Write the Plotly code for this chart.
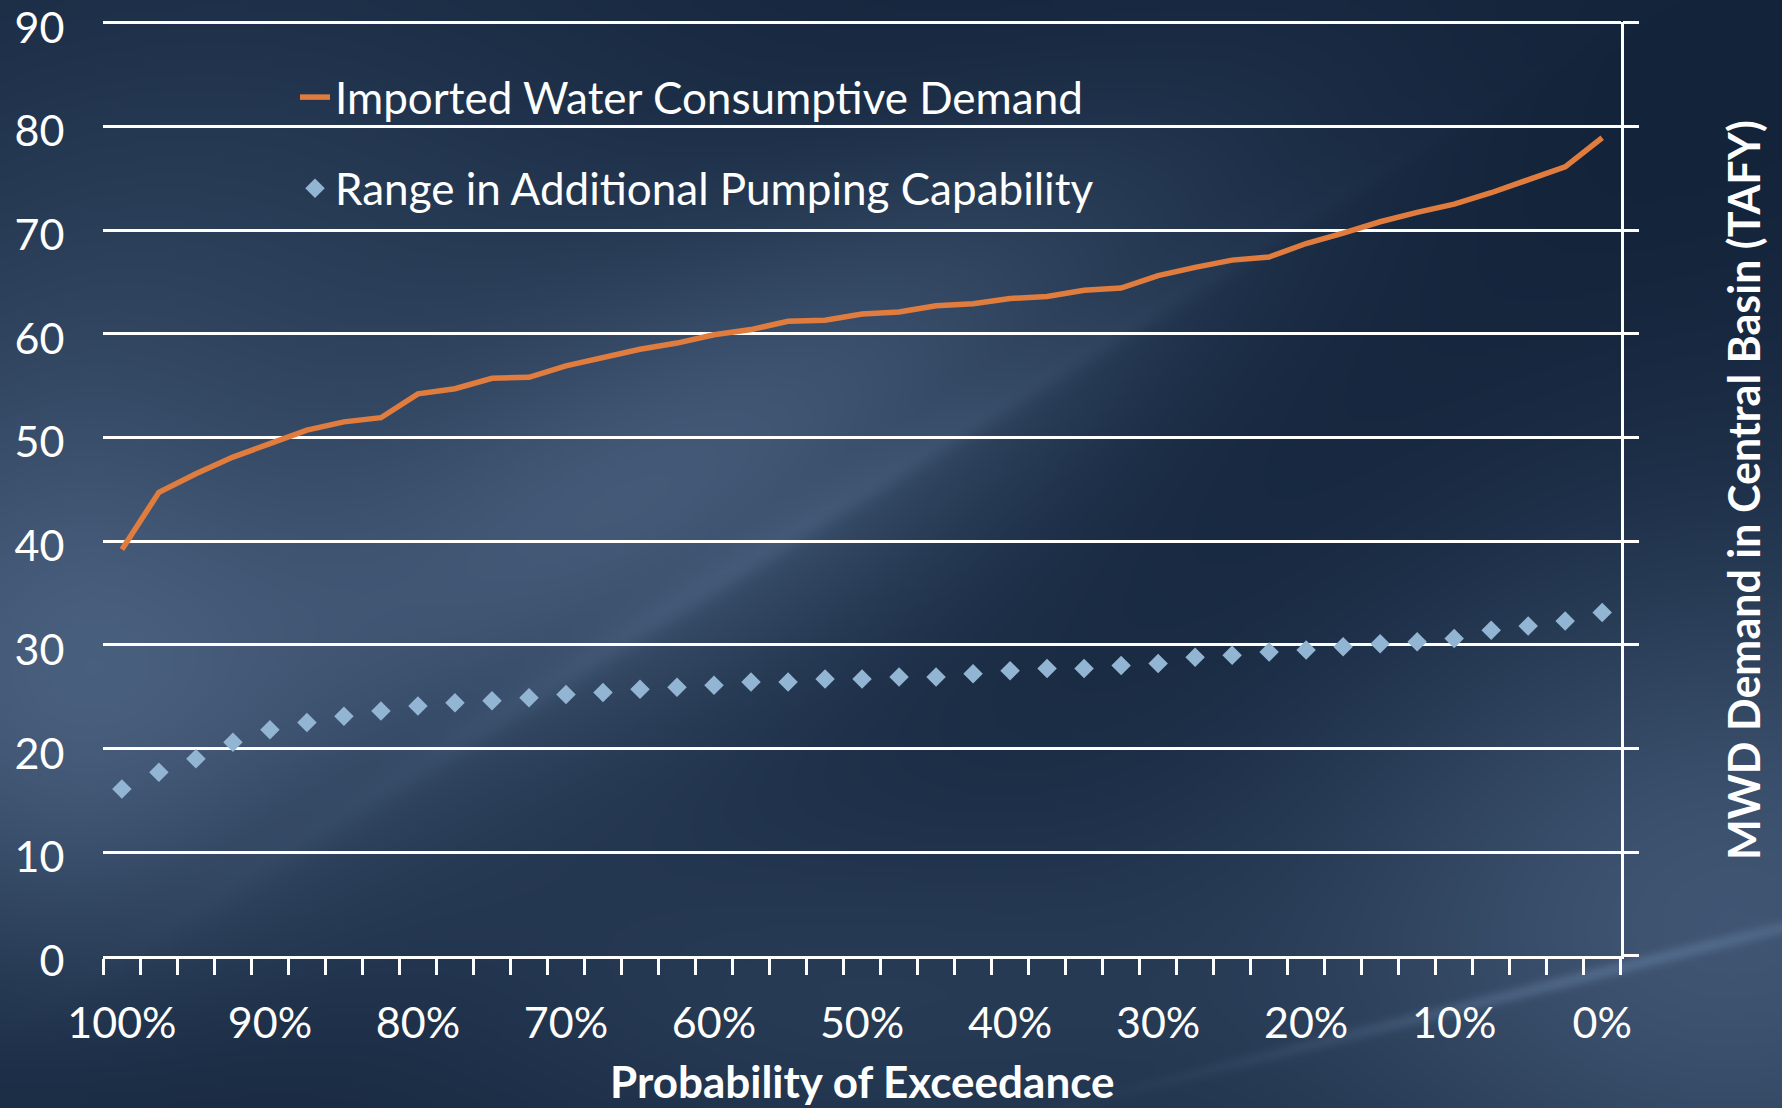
import base64
import struct
import zlib

import numpy as np
import plotly.graph_objects as go

# ---------------------------------------------------------------- data
exceedance = [100, 97.5, 95, 92.5, 90, 87.5, 85, 82.5, 80, 77.5,
              75, 72.5, 70, 67.5, 65, 62.5, 60, 57.5, 55, 52.5,
              50, 47.5, 45, 42.5, 40, 37.5, 35, 32.5, 30, 27.5,
              25, 22.5, 20, 17.5, 15, 12.5, 10, 7.5, 5, 2.5, 0]

imported_demand = [39.2, 44.7, 46.5, 48.1, 49.4, 50.7, 51.5, 51.9, 54.2, 54.7,
                   55.7, 55.8, 56.9, 57.7, 58.5, 59.1, 59.9, 60.4, 61.2, 61.3,
                   61.9, 62.1, 62.7, 62.9, 63.4, 63.6, 64.2, 64.4, 65.6, 66.4,
                   67.1, 67.4, 68.7, 69.7, 70.8, 71.7, 72.5, 73.6, 74.8, 76.1,
                   78.9]

pumping_capability = [16.1, 17.7, 19.0, 20.6, 21.8, 22.5, 23.1, 23.6, 24.1, 24.4,
                      24.6, 24.9, 25.2, 25.4, 25.7, 25.9, 26.1, 26.4, 26.4, 26.7,
                      26.7, 26.9, 26.9, 27.2, 27.5, 27.7, 27.7, 28.0, 28.2, 28.8,
                      29.0, 29.3, 29.5, 29.8, 30.1, 30.3, 30.6, 31.4, 31.8, 32.3,
                      33.1]

label_values = [100, 90, 80, 70, 60, 50, 40, 30, 20, 10, 0]
label_text = ["100%", "90%", "80%", "70%", "60%", "50%", "40%", "30%", "20%", "10%", "0%"]

# ---------------------------------------------------------------- styling
W, H = 1782, 1108
PLOT_L, PLOT_R, PLOT_T, PLOT_B = 103.4, 1620.7, 22.7, 955.8
Y_MAX = 90
Y_PAD = 0.1  # keeps the top gridline just inside the plotting area
ORANGE = "#E07C3E"
DIAMOND = "#93B5D4"
FONT = "Lato"
TXT = "#FFFFFF"

step = exceedance[0] - exceedance[1]
boundaries = [exceedance[0] + step / 2 - step * i for i in range(len(exceedance) + 1)]
px_per_unit = (PLOT_B - PLOT_T) / Y_MAX
top_px = PLOT_T - Y_PAD * px_per_unit


# ---------------------------------------------------------------- backdrop
def png_uri(rgb):
    h, w, _ = rgb.shape
    raw = b"".join(b"\x00" + rgb[i].tobytes() for i in range(h))

    def chunk(tag, data):
        return (struct.pack(">I", len(data)) + tag + data
                + struct.pack(">I", zlib.crc32(tag + data) & 0xFFFFFFFF))

    png = (b"\x89PNG\r\n\x1a\n"
           + chunk(b"IHDR", struct.pack(">IIBBBBB", w, h, 8, 2, 0, 0, 0))
           + chunk(b"IDAT", zlib.compress(raw, 9))
           + chunk(b"IEND", b""))
    return "data:image/png;base64," + base64.b64encode(png).decode()


def backdrop(w=446, h=277):
    X, Y = np.meshgrid(np.linspace(0, W, w), np.linspace(0, H, h))

    def blob(cx, cy, sx, sy, ang_deg, amp):
        a = np.deg2rad(ang_deg)
        dx, dy = X - cx, Y - cy
        u = dx * np.cos(a) + dy * np.sin(a)
        v = -dx * np.sin(a) + dy * np.cos(a)
        return amp * np.exp(-(u ** 2 / (2 * sx ** 2) + v ** 2 / (2 * sy ** 2)))

    L = np.full(X.shape, 0.16)
    L += blob(30, 660, 200, 230, 0, 0.55)
    L += blob(260, 240, 330, 200, 0, 0.20)
    L += blob(820, 400, 430, 140, -30, 0.42)
    L += blob(500, 580, 300, 170, -20, 0.22)
    L += blob(1740, 920, 320, 260, 0, 0.55)
    L += blob(820, 1000, 330, 130, 0, 0.22)
    L += blob(1600, 975, 260, 5, -14, 0.28)
    L += blob(900, 470, 380, 9, -32, 0.10)
    L += blob(730, 560, 420, 14, -33, 0.08)
    L += blob(1400, 60, 420, 220, 0, -0.12)
    L += blob(1250, 480, 220, 200, 0, -0.06)
    L += blob(150, 1080, 300, 110, 0, -0.05)
    L = np.clip(L, 0, 1)

    dark = np.array([12, 28, 50], float)
    light = np.array([84, 108, 140], float)
    rgb = dark + (light - dark) * L[..., None]
    return np.clip(rgb, 0, 255).astype(np.uint8)


# ---------------------------------------------------------------- figure
fig = go.Figure()

fig.add_trace(go.Scatter(
    x=exceedance, y=imported_demand, mode="lines", yaxis="y2",
    name="Imported Water Consumptive Demand", legendgroup="demand",
    line=dict(color=ORANGE, width=5.5),
))
fig.add_trace(go.Scatter(
    x=exceedance, y=pumping_capability, mode="markers",
    name="Range in Additional Pumping Capability", legendgroup="pumping",
    marker=dict(symbol="diamond", size=15, color=DIAMOND),
))

y_domain = [1 - PLOT_B / H, 1 - top_px / H]
y_range = [0, Y_MAX + Y_PAD]

fig.update_layout(
    width=W, height=H,
    margin=dict(l=0, r=0, t=0, b=0),
    paper_bgcolor="#15294a",
    plot_bgcolor="rgba(0,0,0,0)",
    font=dict(family=FONT, color=TXT, size=44),
    showlegend=True,
    legend=dict(
        x=295 / W, y=1 - 62 / H, xanchor="left", yanchor="top",
        bgcolor="rgba(0,0,0,0)", font=dict(family=FONT, size=44, color=TXT),
        traceorder="grouped", tracegroupgap=31,
    ),
    images=[dict(
        source=png_uri(backdrop()), xref="paper", yref="paper",
        x=0, y=1, sizex=1, sizey=1, xanchor="left", yanchor="top",
        sizing="stretch", layer="below",
    )],
    xaxis=dict(
        domain=[PLOT_L / W, PLOT_R / W],
        range=[boundaries[0], boundaries[-1]],
        tickmode="array", tickvals=label_values, ticktext=label_text,
        ticks="", showgrid=False, zeroline=False,
        showline=True, linecolor="white", linewidth=2.5,
        tickfont=dict(family=FONT, size=43, color=TXT),
        ticklabelstandoff=28, ticklabeloverflow="allow",
        minor=dict(tickmode="array", tickvals=boundaries, ticks="outside",
                   ticklen=16, tickwidth=2.5, tickcolor="white", showgrid=False),
        automargin=False,
    ),
    yaxis=dict(
        domain=y_domain, range=y_range,
        tickmode="linear", tick0=0, dtick=10,
        showgrid=True, gridcolor="white", gridwidth=2.5,
        zeroline=False, showline=False, ticks="",
        tickfont=dict(family=FONT, size=43, color=TXT),
        ticklabelstandoff=38, ticklabelshift=5, ticklabeloverflow="allow",
        automargin=False,
    ),
    yaxis2=dict(
        overlaying="y", side="right", anchor="x",
        range=y_range, tickmode="linear", tick0=0, dtick=10,
        showgrid=False, zeroline=False, showticklabels=False,
        showline=True, linecolor="white", linewidth=2.5,
        ticks="outside", ticklen=16, tickwidth=2.5, tickcolor="white",
        automargin=False,
    ),
    annotations=[
        dict(text="<b>Probability of Exceedance</b>", xref="paper", yref="paper",
             x=862 / W, y=1 - 1081 / H, xanchor="center", yanchor="middle",
             showarrow=False, font=dict(family=FONT, size=44, color=TXT)),
        dict(text="<b>MWD Demand in Central Basin (TAFY)</b>", xref="paper", yref="paper",
             x=1743 / W, y=1 - 490 / H, xanchor="center", yanchor="middle",
             textangle=-90, showarrow=False,
             font=dict(family=FONT, size=43, color=TXT)),
    ],
)

fig.write_html("out.html")
